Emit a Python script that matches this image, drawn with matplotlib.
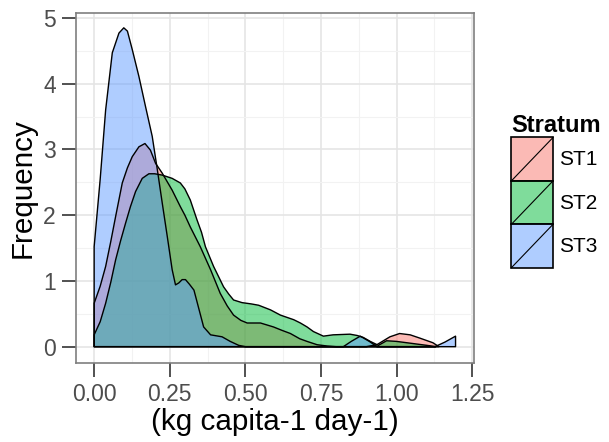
import matplotlib
matplotlib.use("Agg")
import matplotlib.pyplot as plt
from matplotlib.legend_handler import HandlerBase
from matplotlib.patches import Rectangle
from matplotlib.lines import Line2D
from matplotlib.ticker import MultipleLocator

plt.rcParams['font.family'] = ['Liberation Sans', 'DejaVu Sans']

# Curvas de densidad
strata = ['ST1', 'ST2', 'ST3']
colores = ['#F8766D', '#00BA38', '#619CFF']

x_st1 = [0.000, 0.020, 0.038, 0.055, 0.071, 0.093, 0.110, 0.126, 0.148, 0.168,
         0.186, 0.203, 0.225, 0.258, 0.285, 0.300, 0.318, 0.351, 0.385, 0.417,
         0.440, 0.461, 0.485, 0.506, 0.550, 0.593, 0.620, 0.649, 0.680, 0.704,
         0.737, 0.770, 0.800, 0.900, 0.935, 0.978, 1.010, 1.045, 1.077, 1.120, 1.140]
y_st1 = [0.66, 0.92, 1.22, 1.60, 1.98, 2.49, 2.72, 2.89, 3.04, 3.09,
         2.99, 2.79, 2.64, 2.38, 2.13, 2.00, 1.82, 1.52, 1.17, 0.81,
         0.62, 0.48, 0.40, 0.36, 0.36, 0.30, 0.25, 0.20, 0.12, 0.08,
         0.03, 0.01, 0.00, 0.00, 0.03, 0.15, 0.20, 0.18, 0.13, 0.06, 0.00]

x_st2 = [0.000, 0.020, 0.038, 0.055, 0.071, 0.088, 0.104, 0.120, 0.137, 0.159,
         0.181, 0.200, 0.225, 0.258, 0.285, 0.300, 0.318, 0.340, 0.355, 0.368,
         0.395, 0.428, 0.445, 0.461, 0.489, 0.520, 0.544, 0.583, 0.616, 0.660,
         0.682, 0.704, 0.725, 0.758, 0.790, 0.846, 0.870, 0.890, 0.913, 0.940,
         0.967, 1.000, 1.050, 1.100, 1.130]
y_st2 = [0.18, 0.38, 0.66, 0.98, 1.32, 1.62, 1.88, 2.13, 2.36, 2.56,
         2.63, 2.63, 2.61, 2.56, 2.49, 2.40, 2.23, 1.93, 1.74, 1.52,
         1.22, 0.91, 0.80, 0.71, 0.67, 0.65, 0.63, 0.56, 0.48, 0.41,
         0.36, 0.30, 0.23, 0.16, 0.18, 0.19, 0.17, 0.14, 0.08, 0.02,
         0.09, 0.08, 0.05, 0.02, 0.00]

x_st3 = [0.000, 0.020, 0.038, 0.060, 0.082, 0.098, 0.110, 0.126, 0.148, 0.170,
         0.192, 0.209, 0.225, 0.242, 0.258, 0.269, 0.280, 0.291, 0.302, 0.315,
         0.330, 0.346, 0.362, 0.385, 0.423, 0.450, 0.478, 0.500, 0.824, 0.850,
         0.880, 0.910, 0.935, 1.127, 1.160, 1.195]
y_st3 = [1.52, 2.55, 3.60, 4.47, 4.77, 4.85, 4.80, 4.52, 4.11, 3.65,
         3.20, 2.69, 2.19, 1.67, 1.17, 0.94, 0.97, 1.02, 1.02, 0.95,
         0.86, 0.58, 0.30, 0.18, 0.15, 0.08, 0.02, 0.00, 0.00, 0.08,
         0.16, 0.08, 0.00, 0.00, 0.07, 0.16]

x_ticks = [0.00, 0.25, 0.50, 0.75, 1.00, 1.25]
y_ticks = [0, 1, 2, 3, 4, 5]


class HandlerClave(HandlerBase):
    # caja con diagonal, como las claves de ggplot
    def create_artists(self, legend, orig_handle, xdescent, ydescent,
                       width, height, fontsize, trans):
        caja = Rectangle((-xdescent, -ydescent), width, height,
                         facecolor=orig_handle.get_facecolor(),
                         edgecolor='black', linewidth=1.2, transform=trans)
        diag = Line2D([-xdescent, -xdescent + width], [-ydescent, -ydescent + height],
                      color='black', linewidth=0.8, transform=trans)
        return [caja, diag]


fig = plt.figure(figsize=(6.09, 4.42), dpi=100)
ax = fig.add_axes([76 / 609, 1 - 363.3 / 442, 398 / 609, 350.6 / 442])

series = [(x_st1, y_st1), (x_st2, y_st2), (x_st3, y_st3)]
manijas = []
for (xs, ys), nombre, color in zip(series, strata, colores):
    ax.fill_between(xs, ys, 0, facecolor=color, alpha=0.5, edgecolor='none', zorder=2)
    ax.fill_between(xs, ys, 0, facecolor='none', edgecolor='black', linewidth=1.0, zorder=3)
    manijas.append(Rectangle((0, 0), 1, 1, facecolor=color, alpha=0.5, label=nombre))

ax.set_xlim(-0.06, 1.256)
ax.set_ylim(-0.253, 5.08)
ax.set_xticks(x_ticks)
ax.set_yticks(y_ticks)
ax.set_xticklabels([f'{v:.2f}' for v in x_ticks])
ax.xaxis.set_minor_locator(MultipleLocator(0.125))
ax.yaxis.set_minor_locator(MultipleLocator(0.5))
ax.grid(which='major', color='#E5E5E5', linewidth=1.2, zorder=0)
ax.grid(which='minor', color='#F2F2F2', linewidth=0.8, zorder=0)
ax.set_axisbelow(True)
ax.tick_params(which='major', length=10, width=1.2, color='#333333',
               labelsize=16.5, labelcolor='#4D4D4D', pad=4.5)
ax.tick_params(which='minor', length=0)
for lado in ax.spines.values():
    lado.set_color('#7F7F7F')
    lado.set_linewidth(1.2)

ax.set_xlabel('(kg capita-1 day-1)', fontsize=21.3, labelpad=1)
ax.set_ylabel('Frequency', fontsize=21.3, labelpad=5)

leg = fig.legend(handles=manijas, loc='upper left', bbox_to_anchor=(501 / 609, 1 - 104 / 442),
                 frameon=False, fontsize=15, title='Stratum',
                 title_fontproperties={'weight': 'bold', 'size': 17},
                 handler_map={Rectangle: HandlerClave()},
                 handlelength=2.0, handleheight=2.83, labelspacing=0.0,
                 handletextpad=0.3, borderpad=0.0)
leg._legend_box.align = 'left'

fig.savefig('out.png', dpi=100)
